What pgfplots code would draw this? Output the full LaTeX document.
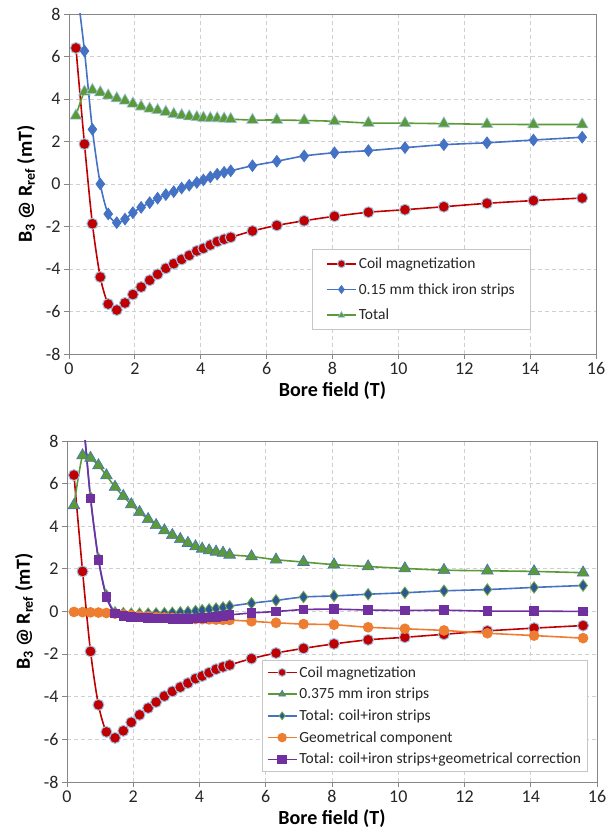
\documentclass[border=0pt]{standalone}
\usepackage{fontspec}
\setmainfont{Carlito}
\usepackage{pgfplots}
\usepackage{pgfplotstable}
\pgfplotsset{compat=1.18}

\definecolor{cred}{HTML}{C00000}
\definecolor{cblue}{HTML}{4472C4}
\definecolor{cdblue}{HTML}{2F5597}
\definecolor{cgreen}{HTML}{5B9A36}
\definecolor{lgreen}{HTML}{70AD47}
\definecolor{corange}{HTML}{ED7D31}
\definecolor{cpurple}{HTML}{7030A0}
\definecolor{cedge}{HTML}{9DC3E6}
\definecolor{cgrid}{HTML}{D0D0D0}
\definecolor{caxis}{HTML}{868686}

\pgfplotstableread{
x      coil   strips total
0.21   6.40   9.61   3.21
0.47   1.88   6.26   4.34
0.71  -1.87   2.57   4.42
0.95  -4.38   0.00   4.31
1.19  -5.65  -1.41   4.16
1.45  -5.93  -1.82   4.03
1.70  -5.60  -1.65   3.92
1.94  -5.20  -1.35   3.78
2.19  -4.85  -1.10   3.64
2.45  -4.53  -0.88   3.54
2.69  -4.25  -0.67   3.47
2.94  -3.97  -0.50   3.39
3.18  -3.75  -0.36   3.29
3.42  -3.55  -0.19   3.23
3.65  -3.36  -0.06   3.18
3.88  -3.15   0.07   3.14
4.08  -3.03   0.19   3.11
4.29  -2.87   0.33   3.09
4.50  -2.71   0.46   3.09
4.71  -2.60   0.55   3.07
4.91  -2.51   0.62   3.05
5.57  -2.21   0.86   3.01
6.31  -1.95   1.07   3.01
7.14  -1.73   1.32   2.99
8.06  -1.52   1.47   2.95
9.09  -1.33   1.57   2.87
10.20 -1.21   1.71   2.86
11.38 -1.07   1.85   2.84
12.69 -0.91   1.94   2.81
14.10 -0.78   2.07   2.80
15.58 -0.66   2.20   2.80
}\toptable

\pgfplotstableread{
x      coil   iron   tot    geo    corr
0.21   6.40   4.98  11.38  -0.02  11.36
0.47   1.88   7.32   9.20  -0.03   9.17
0.71  -1.87   7.20   5.35  -0.04   5.31
0.95  -4.38   6.85   2.48  -0.05   2.43
1.19  -5.65   6.38   0.75  -0.07   0.68
1.45  -5.93   5.84  -0.04  -0.10  -0.10
1.70  -5.60   5.41  -0.08  -0.14  -0.22
1.94  -5.20   5.02  -0.10  -0.17  -0.25
2.19  -4.85   4.66  -0.10  -0.20  -0.28
2.45  -4.53   4.33  -0.10  -0.23  -0.30
2.69  -4.25   4.05  -0.09  -0.26  -0.32
2.94  -3.97   3.80  -0.08  -0.28  -0.33
3.18  -3.75   3.58  -0.06  -0.30  -0.34
3.42  -3.55   3.39  -0.04  -0.32  -0.34
3.65  -3.36   3.21  -0.02  -0.34  -0.34
3.88  -3.15   3.05   0.02  -0.35  -0.33
4.08  -3.03   2.94   0.06  -0.36  -0.31
4.29  -2.87   2.86   0.10  -0.37  -0.28
4.50  -2.71   2.80   0.14  -0.38  -0.25
4.71  -2.60   2.75   0.19  -0.39  -0.21
4.91  -2.51   2.66   0.25  -0.40  -0.16
5.57  -2.21   2.58   0.39  -0.46  -0.07
6.31  -1.95   2.43   0.52  -0.53   0.00
7.14  -1.73   2.32   0.68  -0.59   0.09
8.06  -1.52   2.20   0.73  -0.62   0.11
9.09  -1.33   2.11   0.81  -0.74   0.07
10.20 -1.21   2.02   0.88  -0.81   0.05
11.38 -1.07   1.94   0.97  -0.89   0.06
12.69 -0.91   1.91   1.03  -1.02   0.02
14.10 -0.78   1.88   1.13  -1.13   0.02
15.58 -0.66   1.82   1.22  -1.25   0.00
}\bottable

\pgfplotsset{
  mystyle/.style={
    scale only axis,
    xmin=0, xmax=16, ymin=-8, ymax=8,
    xtick={0,2,...,16}, ytick={-8,-6,...,8},
    grid=major,
    major grid style={cgrid, dash pattern=on 4pt off 3pt, line width=0.9pt},
    axis line style={caxis, line width=0.9pt},
    tick style={caxis, line width=0.9pt},
    tick align=outside, tick pos=left, major tick length=5pt,
    ticklabel style={font=\fontsize{18}{20}\selectfont, text=black!85},
    /pgf/number format/assume math mode=true,
    xlabel={Bore field (T)},
    ylabel={B\textsubscript{3} @ R\textsubscript{ref} (mT)},
    ylabel style={yshift=4pt},
    label style={font=\fontsize{20}{22}\selectfont\bfseries, text=black},
    legend cell align=left,
    legend style={draw=gray!45, line width=0.8pt, fill=white, anchor=north west,
      font=\fontsize{15.5}{18}\selectfont, text=black!85, inner ysep=4pt},
    legend image code/.code={\draw[mark repeat=2,mark phase=2,##1,mark size=3.9pt] plot coordinates {(0pt,0pt) (14.5pt,0pt) (29pt,0pt)};},
    every axis plot/.append style={line width=1.6pt, smooth, tension=0.5},
  },
  coilst/.style={cred, mark=*, mark size=5.5pt, mark options={fill=cred, draw=cedge, line width=1pt}},
}

\begin{document}
\begin{tikzpicture}
\useasboundingbox (0pt,0pt) rectangle (607pt,834pt);
\begin{axis}[mystyle, at={(69pt,480pt)}, anchor=south west, width=527pt, height=340pt,
  legend style={at={(axis cs:7.37,-3.07)}, /tikz/row sep=9.5pt, inner xsep=14pt, inner ysep=6pt}]
\addplot[coilst] table[x=x, y=coil] {\toptable};
\addlegendentry{Coil magnetization}
\addplot[cblue, mark=diamond*, mark size=5.8pt, mark options={fill=cblue, draw=cblue, line width=0.8pt}] table[x=x, y=strips] {\toptable};
\addlegendentry{0.15 mm thick iron strips}
\addplot[cgreen, mark=triangle*, mark size=6.8pt, mark options={fill=cgreen, draw=cedge, line width=0.6pt}] table[x=x, y=total] {\toptable};
\addlegendentry{Total}
\end{axis}

\begin{axis}[mystyle, at={(67pt,52pt)}, anchor=south west, width=530pt, height=341pt,
  legend style={at={(axis cs:5.9,-2.27)}, /tikz/row sep=5.5pt, inner xsep=4pt}]
\addplot[coilst] table[x=x, y=coil] {\bottable};
\addlegendentry{Coil magnetization}
\addplot[cgreen, mark=triangle*, mark size=6.8pt, mark options={fill=cgreen, draw=cblue, line width=0.6pt}] table[x=x, y=iron] {\bottable};
\addlegendentry{0.375 mm iron strips}
\addplot[cblue, mark=diamond*, mark size=5.8pt, mark options={fill=cdblue, draw=lgreen, line width=0.8pt}] table[x=x, y=tot] {\bottable};
\addlegendentry{Total: coil+iron strips}
\addplot[corange, mark=*, mark size=4.5pt, mark options={fill=corange, draw=corange}] table[x=x, y=geo] {\bottable};
\addlegendentry{Geometrical component}
\addplot[cpurple, mark=square*, mark size=4pt, mark options={fill=cpurple, draw=cpurple}] table[x=x, y=corr] {\bottable};
\addlegendentry{Total: coil+iron strips+geometrical correction}
\end{axis}
\end{tikzpicture}
\end{document}
